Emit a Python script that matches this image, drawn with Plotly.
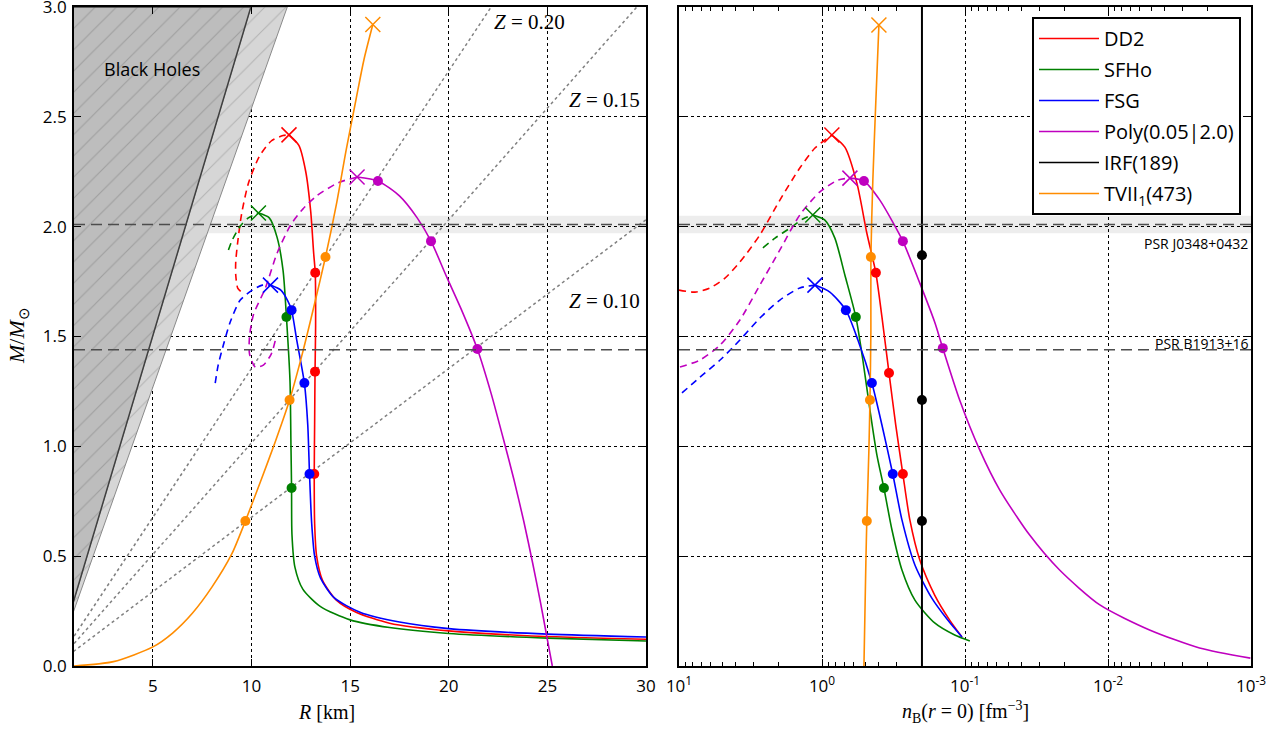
import plotly.graph_objects as go

# ---------------- constants / reference values ----------------
GM_C2 = 1.4766                      # km per solar mass
Z_VALUES = [0.10, 0.15, 0.20]
Z_LABEL_POS = {0.20: (24.1, 2.93), 0.15: (27.9, 2.575), 0.10: (27.9, 1.66)}
BH_FACTORS = [9 / 4, 8 / 3]          # limits in units of GM/c^2
PSR_J0348 = 2.01
PSR_J0348_ERR = 0.04
PSR_B1913 = 1.44

# ---------------- left panel: M(R) ----------------
dd2_R_unst = [9.45, 9.3, 9.2, 9.2, 9.3, 9.5, 9.85, 10.4, 11.0, 11.6, 11.9]
dd2_M_unst = [1.705, 1.72, 1.78, 1.84, 1.93, 2.06, 2.2, 2.32, 2.39, 2.415, 2.418]
dd2_R = [11.9, 12.4, 12.75, 13.0, 13.15, 13.23, 13.25, 13.22, 13.2, 13.18, 13.2, 13.3, 13.6, 14.3, 15.3, 17.0, 20.0, 24.0, 30.0]
dd2_M = [2.418, 2.37, 2.25, 2.07, 1.88, 1.79, 1.55, 1.34, 1.1, 0.874, 0.65, 0.5, 0.39, 0.3, 0.245, 0.195, 0.16, 0.138, 0.122]

sfho_R_unst = [8.83, 9.03, 9.43, 9.84, 10.35]
sfho_M_unst = [1.894, 1.94, 2.003, 2.04, 2.062]
sfho_R = [10.35, 10.9, 11.3, 11.6, 11.77, 11.95, 12.0, 12.03, 12.05, 12.2, 12.6, 13.5, 15.0, 17.0, 20.0, 25.0, 30.0]
sfho_M = [2.062, 2.04, 1.95, 1.8, 1.589, 1.3, 1.0, 0.81, 0.6, 0.45, 0.35, 0.27, 0.21, 0.175, 0.148, 0.127, 0.114]

fsg_R_unst = [8.16, 8.31, 8.57, 8.92, 9.43, 10.04, 10.55, 10.96]
fsg_M_unst = [1.288, 1.37, 1.46, 1.566, 1.666, 1.711, 1.734, 1.734]
fsg_R = [10.96, 11.5, 11.85, 12.03, 12.3, 12.68, 12.85, 12.94, 13.05, 13.2, 13.5, 14.2, 15.5, 17.5, 20.0, 25.0, 30.0]
fsg_M = [1.734, 1.71, 1.66, 1.62, 1.48, 1.288, 1.1, 0.874, 0.65, 0.5, 0.4, 0.31, 0.245, 0.2, 0.17, 0.145, 0.132]

poly_R_unst = [11.2, 11.0, 10.6, 10.2, 9.9, 9.9, 10.1, 10.7, 11.3, 12.0, 12.6, 13.3, 14.4, 15.35]
poly_M_unst = [1.48, 1.42, 1.37, 1.36, 1.42, 1.5, 1.6, 1.72, 1.88, 2.01, 2.08, 2.14, 2.2, 2.226]
poly_R = [15.35, 16.41, 17.5, 18.4, 19.1, 19.9, 20.7, 21.45, 22.15, 22.75, 23.3, 23.8, 24.25, 24.65, 25.0, 25.25]
poly_M = [2.226, 2.208, 2.14, 2.04, 1.934, 1.77, 1.61, 1.443, 1.24, 1.04, 0.85, 0.66, 0.47, 0.29, 0.12, 0.0]

tvii_R = [1.0, 3.0, 5.0, 6.0, 7.0, 8.0, 9.0, 9.69, 10.5, 11.2, 11.93, 12.6, 13.2, 13.75, 14.3, 14.8, 15.3, 15.7, 16.15]
tvii_M = [0.0, 0.02, 0.087, 0.15, 0.24, 0.36, 0.51, 0.66, 0.85, 1.02, 1.211, 1.43, 1.65, 1.862, 2.1, 2.35, 2.58, 2.76, 2.92]

# ---------------- right panel: M(n_B(r=0)) ----------------
dd2_n_unst = [10.0, 7.73, 6.07, 4.77, 3.75, 2.72, 1.97, 1.43, 1.12, 0.853]
dd2_Mn_unst = [1.711, 1.702, 1.721, 1.766, 1.839, 1.962, 2.121, 2.267, 2.358, 2.417]
dd2_n = [0.853, 0.692, 0.570, 0.486, 0.420, 0.381, 0.340, 0.305, 0.272, 0.243, 0.207, 0.163, 0.128, 0.105]
dd2_Mn = [2.417, 2.362, 2.198, 1.971, 1.789, 1.589, 1.334, 1.097, 0.874, 0.665, 0.482, 0.323, 0.209, 0.132]

sfho_n_unst = [2.59, 2.13, 1.67, 1.36, 1.16]
sfho_Mn_unst = [1.903, 1.948, 1.994, 2.035, 2.053]
sfho_n = [1.16, 0.955, 0.813, 0.692, 0.580, 0.518, 0.462, 0.413, 0.369, 0.324, 0.276, 0.224, 0.163, 0.118, 0.0925]
sfho_Mn = [2.053, 2.03, 1.948, 1.78, 1.589, 1.393, 1.165, 0.96, 0.81, 0.619, 0.437, 0.30, 0.196, 0.141, 0.114]

fsg_n_unst = [9.53, 7.13, 5.16, 3.75, 2.72, 1.97, 1.43, 1.12]
fsg_Mn_unst = [1.243, 1.315, 1.393, 1.484, 1.584, 1.666, 1.721, 1.734]
fsg_n = [1.12, 0.881, 0.681, 0.561, 0.448, 0.381, 0.320, 0.276, 0.224, 0.171, 0.132, 0.105]
fsg_Mn = [1.734, 1.702, 1.62, 1.484, 1.288, 1.097, 0.874, 0.665, 0.46, 0.31, 0.209, 0.132]

poly_n_unst = [9.84, 7.13, 5.16, 3.75, 2.72, 1.97, 1.43, 1.04, 0.774, 0.638]
poly_Mn_unst = [1.361, 1.393, 1.461, 1.575, 1.734, 1.894, 2.053, 2.157, 2.212, 2.221]
poly_n = [0.638, 0.509, 0.394, 0.320, 0.272, 0.207, 0.163, 0.143, 0.109, 0.0788, 0.0571, 0.0353, 0.0218, 0.0114, 0.00512, 0.00229, 0.00101]
poly_Mn = [2.221, 2.208, 2.121, 2.021, 1.934, 1.743, 1.566, 1.447, 1.211, 0.983, 0.801, 0.596, 0.437, 0.278, 0.164, 0.082, 0.036]

irf_n = [0.2, 0.2]
irf_Mn = [0.0, 3.0]

tvii_n = [0.509, 0.493, 0.486, 0.470, 0.462, 0.455, 0.455, 0.441, 0.420, 0.400]
tvii_Mn = [0.0, 0.482, 0.66, 0.983, 1.211, 1.529, 1.862, 2.212, 2.576, 2.918]

# ---------------- marked points ----------------
dots_left = {
    "DD2": ([13.23, 13.22, 13.18], [1.79, 1.34, 0.874]),
    "SFHo": ([11.77, 12.03], [1.589, 0.81]),
    "FSG": ([12.03, 12.68, 12.94], [1.62, 1.288, 0.874]),
    "Poly": ([16.41, 19.1, 21.45], [2.208, 1.934, 1.443]),
    "TVII": ([9.69, 11.93, 13.75], [0.66, 1.211, 1.862]),
}
dots_right = {
    "DD2": ([0.420, 0.340, 0.272], [1.79, 1.334, 0.874]),
    "SFHo": ([0.580, 0.369], [1.589, 0.81]),
    "FSG": ([0.681, 0.448, 0.320], [1.62, 1.288, 0.874]),
    "Poly": ([0.509, 0.272, 0.143], [2.208, 1.934, 1.447]),
    "IRF": ([0.2, 0.2, 0.2], [0.66, 1.211, 1.87]),
    "TVII": ([0.486, 0.462, 0.455], [0.66, 1.211, 1.862]),
}
max_left = {"DD2": (11.9, 2.418), "SFHo": (10.35, 2.062), "FSG": (10.96, 1.734),
            "Poly": (15.35, 2.226), "TVII": (16.15, 2.92)}
max_right = {"DD2": (0.853, 2.417), "SFHo": (1.16, 2.053), "FSG": (1.12, 1.734),
             "Poly": (0.638, 2.221), "TVII": (0.400, 2.918)}

legend_names = ["DD2", "SFHo", "FSG", "Poly(0.05|2.0)", "IRF(189)", "TVII<sub>1</sub>(473)"]
COLORS = {"DD2": "#ff0000", "SFHo": "#008000", "FSG": "#0000ff",
          "Poly": "#bf00bf", "IRF": "#000000", "TVII": "#ff8c00"}
KEYS = ["DD2", "SFHo", "FSG", "Poly", "IRF", "TVII"]

fig = go.Figure()

# ---- black-hole regions (left panel) ----
k_dark, k_light = BH_FACTORS[0] * GM_C2, BH_FACTORS[1] * GM_C2
fig.add_trace(go.Scatter(
    x=[0, 3 * k_dark, 3 * k_light, 0], y=[0, 3, 3, 0], fill="toself", mode="lines",
    line=dict(color="#8a8a8a", width=1), fillcolor="#d6d6d6",
    fillpattern=dict(shape="/", fgcolor="#8f8f8f", bgcolor="#d6d6d6", size=15, solidity=0.07),
    showlegend=False, hoverinfo="skip", xaxis="x", yaxis="y"))
fig.add_trace(go.Scatter(
    x=[0, 0, 3 * k_dark, 0], y=[0, 3, 3, 0], fill="toself", mode="lines",
    line=dict(color="#404040", width=1.5), fillcolor="#bdbdbd",
    fillpattern=dict(shape="/", fgcolor="#808080", bgcolor="#bdbdbd", size=15, solidity=0.07),
    showlegend=False, hoverinfo="skip", xaxis="x", yaxis="y"))

# ---- constant-compactness lines ----
for z in Z_VALUES:
    fig.add_trace(go.Scatter(x=[0, 30], y=[0, 30 * z / GM_C2], mode="lines",
                             line=dict(color="#808080", width=1.5, dash="dot"),
                             showlegend=False, hoverinfo="skip", xaxis="x", yaxis="y"))

DASH = "7px,5px"


def curve(x, y, key, xa, ya, dashed=False):
    fig.add_trace(go.Scatter(x=x, y=y, mode="lines",
                             line=dict(color=COLORS[key], width=1.6, shape="spline", smoothing=0.7,
                                       dash=DASH if dashed else "solid"),
                             showlegend=False, hoverinfo="skip", xaxis=xa, yaxis=ya))


left_curves = [("DD2", dd2_R_unst, dd2_M_unst, dd2_R, dd2_M),
               ("SFHo", sfho_R_unst, sfho_M_unst, sfho_R, sfho_M),
               ("FSG", fsg_R_unst, fsg_M_unst, fsg_R, fsg_M),
               ("Poly", poly_R_unst, poly_M_unst, poly_R, poly_M)]
for key, xu, yu, xs, ys in left_curves:
    curve(xu, yu, key, "x", "y", dashed=True)
    curve(xs, ys, key, "x", "y")
curve(tvii_R, tvii_M, "TVII", "x", "y")

right_curves = [("DD2", dd2_n_unst, dd2_Mn_unst, dd2_n, dd2_Mn),
                ("SFHo", sfho_n_unst, sfho_Mn_unst, sfho_n, sfho_Mn),
                ("FSG", fsg_n_unst, fsg_Mn_unst, fsg_n, fsg_Mn),
                ("Poly", poly_n_unst, poly_Mn_unst, poly_n, poly_Mn)]
for key, xu, yu, xs, ys in right_curves:
    curve(xu, yu, key, "x2", "y2", dashed=True)
    curve(xs, ys, key, "x2", "y2")
fig.add_trace(go.Scatter(x=irf_n, y=irf_Mn, mode="lines", line=dict(color="#000000", width=2),
                         showlegend=False, hoverinfo="skip", xaxis="x2", yaxis="y2"))
curve(tvii_n, tvii_Mn, "TVII", "x2", "y2")

# ---- markers ----
for dots, maxs, xa, ya in [(dots_left, max_left, "x", "y"), (dots_right, max_right, "x2", "y2")]:
    for key, (xs, ys) in dots.items():
        fig.add_trace(go.Scatter(x=xs, y=ys, mode="markers",
                                 marker=dict(color=COLORS[key], size=10, line=dict(width=0)),
                                 showlegend=False, hoverinfo="skip", xaxis=xa, yaxis=ya))
    for key, (xm, ym) in maxs.items():
        fig.add_trace(go.Scatter(x=[xm], y=[ym], mode="markers",
                                 marker=dict(symbol="x-thin", size=15, line=dict(color=COLORS[key], width=1.5)),
                                 showlegend=False, hoverinfo="skip", xaxis=xa, yaxis=ya))

# ---- legend entries ----
for i, (key, name) in enumerate(zip(KEYS, legend_names)):
    fig.add_trace(go.Scatter(x=[None], y=[None], mode="lines", name=name,
                             line=dict(color=COLORS[key], width=1.6),
                             legendgroup=f"g{i}", xaxis="x2", yaxis="y2"))

# ---- reference shapes ----
shapes = []
for xr, yr in [("x domain", "y"), ("x2 domain", "y2")]:
    shapes.append(dict(type="rect", xref=xr, yref=yr, x0=0, x1=1,
                       y0=PSR_J0348 - PSR_J0348_ERR, y1=PSR_J0348 + PSR_J0348_ERR,
                       fillcolor="rgba(0,0,0,0.07)", line=dict(width=0), layer="below"))
    for m in [PSR_J0348, PSR_B1913]:
        shapes.append(dict(type="line", xref=xr, yref=yr, x0=0, x1=1, y0=m, y1=m,
                           line=dict(color="#4d4d4d", width=1.6, dash="11px,6px")))

# ---- layout geometry (pixels of the 1283x733 page) ----
W, H = 1283, 733
ML, MR, MT, MB = 74, 32, 7, 67
PW, PH = W - ML - MR, H - MT - MB


def px(xp):
    return (xp - ML) / PW


def py(yp):
    return (H - MB - yp) / PH


xdom1 = [0, px(646)]
xdom2 = [px(679), 1]

TICKFONT = dict(family="Open Sans", size=17, color="black")
axis_common = dict(showline=True, linecolor="black", linewidth=1.8, mirror="ticks",
                   ticks="inside", ticklen=7, tickwidth=1, tickcolor="black",
                   showgrid=True, gridcolor="black", gridwidth=1, griddash="dot",
                   zeroline=False, tickfont=TICKFONT, automargin=False, ticklabeloverflow="allow")

minor_vals = [d * i for d in [0.001, 0.01, 0.1, 1.0] for i in range(2, 10)]

fig.update_layout(
    width=W, height=H, margin=dict(l=ML, r=MR, t=MT, b=MB, autoexpand=False),
    paper_bgcolor="white", plot_bgcolor="white",
    xaxis=dict(domain=xdom1, range=[1, 30], tickvals=[5, 10, 15, 20, 25, 30], anchor="y",
               ticklabelstandoff=4, **axis_common),
    yaxis=dict(domain=[0, 1], range=[0, 3], tickvals=[0, 0.5, 1, 1.5, 2, 2.5, 3],
               ticktext=["0.0", "0.5", "1.0", "1.5", "2.0", "2.5", "3.0"], anchor="x",
               ticklabelstandoff=2, **axis_common),
    xaxis2=dict(domain=xdom2, type="log", range=[1, -3], anchor="y2",
                tickvals=[10, 1, 0.1, 0.01, 0.001],
                ticktext=["10<sup>1</sup>", "10<sup>0</sup>", "10<sup>-1</sup>", "10<sup>-2</sup>", "10<sup>-3</sup>"],
                minor=dict(ticks="inside", ticklen=4, tickcolor="black", tickvals=minor_vals, showgrid=False),
                ticklabelstandoff=4, **axis_common),
    yaxis2=dict(domain=[0, 1], range=[0, 3], tickvals=[0, 0.5, 1, 1.5, 2, 2.5, 3], showticklabels=False,
                anchor="x2", **axis_common),
    shapes=shapes,
    showlegend=True,
    legend=dict(x=px(1032), y=py(17), xanchor="left", yanchor="top",
                bordercolor="black", borderwidth=2, bgcolor="white",
                font=dict(family="Open Sans", size=20, color="black"),
                tracegroupgap=2, itemwidth=60),
)

SERIF = "Liberation Serif"
ann = []
for z in Z_VALUES:
    zx, zy = Z_LABEL_POS[z]
    ann.append(dict(x=zx, y=zy, xref="x", yref="y", text=f"<i>Z</i> = {z:.2f}", showarrow=False,
                    font=dict(family=SERIF, size=21, color="black")))
ann += [
    dict(x=4.95, y=2.72, xref="x", yref="y", text="Black Holes", showarrow=False,
         font=dict(family="Open Sans", size=18, color="black")),
    dict(x=px(1250), y=py(243), xref="paper", yref="paper", text="PSR J0348+0432",
         showarrow=False, xanchor="right", yanchor="middle", font=dict(family="Open Sans", size=14, color="black")),
    dict(x=px(1250), y=py(343), xref="paper", yref="paper", text="PSR B1913+16",
         showarrow=False, xanchor="right", yanchor="middle", font=dict(family="Open Sans", size=14, color="black")),
    dict(x=px(326), y=py(712), xref="paper", yref="paper", text="<i>R</i> [km]", showarrow=False,
         xanchor="center", yanchor="middle", font=dict(family=SERIF, size=20, color="black")),
    dict(x=px(965), y=py(712), xref="paper", yref="paper",
         text="<i>n</i><sub>B</sub>(<i>r</i> = 0) [fm<sup>\u22123</sup>]", showarrow=False,
         xanchor="center", yanchor="middle", font=dict(family=SERIF, size=20, color="black")),
    dict(x=px(18), y=py(336), xref="paper", yref="paper", text="<i>M</i>/<i>M</i><sub>\u2299</sub>",
         showarrow=False, textangle=-90, xanchor="center", yanchor="middle",
         font=dict(family=SERIF, size=22, color="black")),
]
fig.update_layout(annotations=ann)

fig.write_html("out.html")
